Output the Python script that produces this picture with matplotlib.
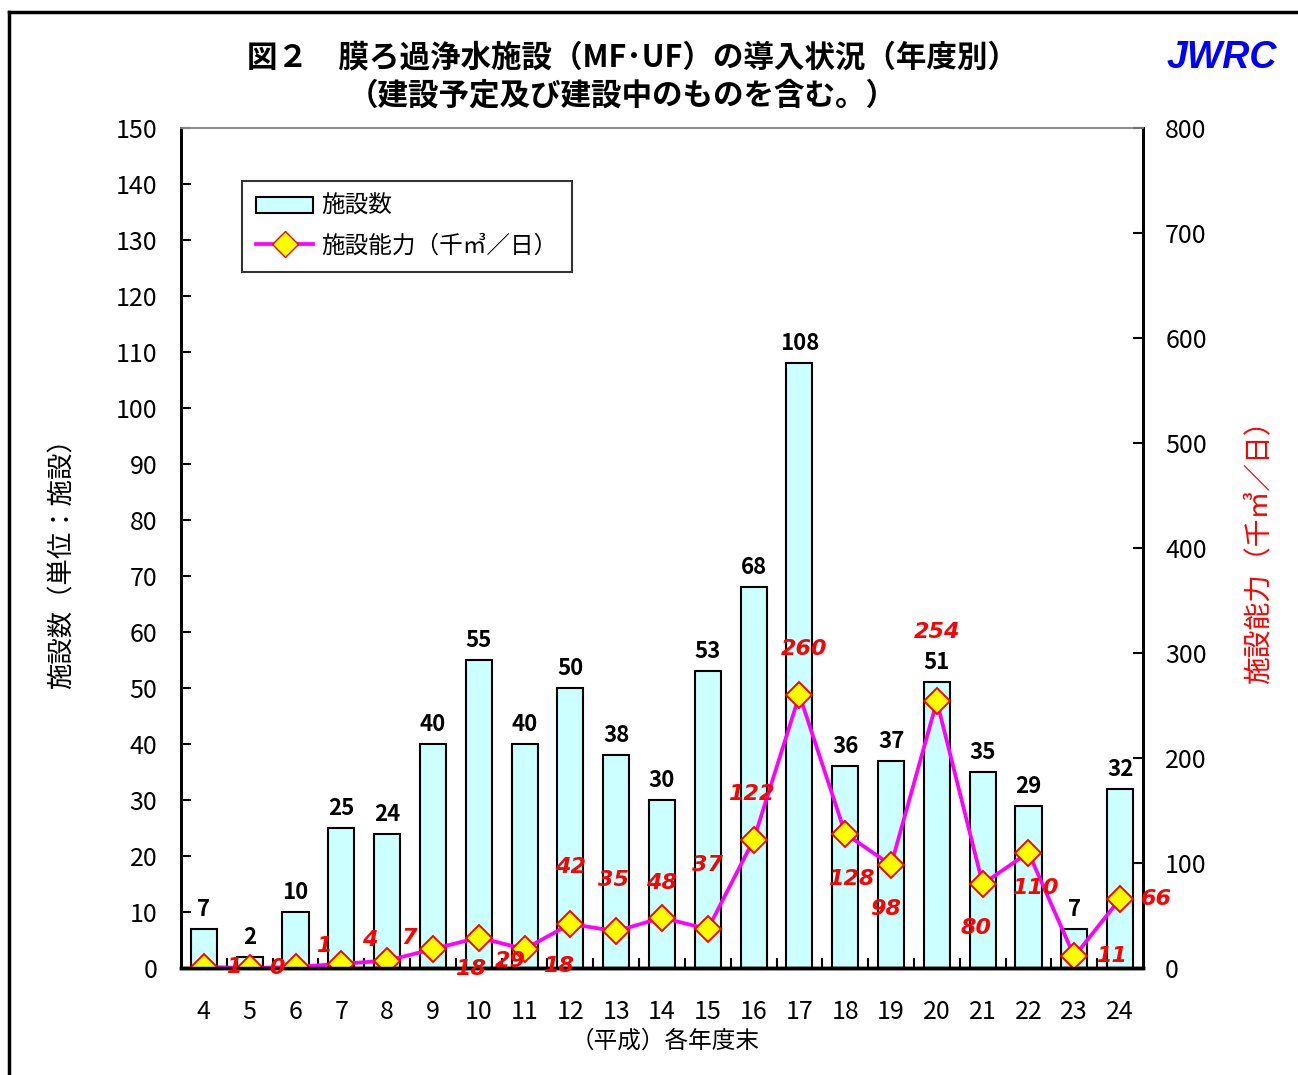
import numpy as np
import matplotlib
matplotlib.use("Agg")
import matplotlib.pyplot as plt
from matplotlib.lines import Line2D
from matplotlib.patches import Patch

plt.rcParams['font.family'] = ['Noto Sans CJK JP', 'DejaVu Sans']

years = ['4', '5', '6', '7', '8', '9', '10', '11', '12', '13', '14',
         '15', '16', '17', '18', '19', '20', '21', '22', '23', '24']
facilities = [7, 2, 10, 25, 24, 40, 55, 40, 50, 38, 30,
              53, 68, 108, 36, 37, 51, 35, 29, 7, 32]
capacity = [1, 0, 1, 4, 7, 18, 29, 18, 42, 35, 48,
            37, 122, 260, 128, 98, 254, 80, 110, 11, 66]

# label offsets for the red capacity numbers (pixels)
cap_offsets = [(30, 0), (27, 0), (28, 21), (28, 24), (22, 23), (38, -20), (32, -23),
               (34, -17), (0, 57), (-3, 51), (0, 35), (0, 64), (-2, 46), (5, 46),
               (6, -45), (-5, -44), (0, 69), (-7, -44), (7, -35), (37, 0), (36, 0)]

fig = plt.figure(figsize=(12.98, 10.75), dpi=100)
ax = fig.add_axes([181/1298, 1-968/1075, (1143-181)/1298, (968-128)/1075])
ax2 = ax.twinx()

x = np.arange(len(years))
ax.bar(x, facilities, width=0.57, color='#CCFFFF', edgecolor='black', linewidth=1.5)
for xi, v in zip(x, facilities):
    ax.annotate(str(v), (xi, v), xytext=(0, 8), textcoords='offset pixels',
                ha='center', va='bottom', fontsize=16, fontweight='bold')

ax.set_xlim(-0.5, len(years) - 0.5)
ax.set_ylim(0, 150)
ax.set_yticks(np.arange(0, 151, 10))
ax.set_xticks(x)
ax.set_xticklabels(years)
ax.set_xticks(np.arange(0.5, len(years) - 1, 1), minor=True)
ax.tick_params(axis='x', which='major', length=0, labelsize=18, pad=22)
ax.tick_params(axis='x', which='minor', direction='in', length=7, width=1.5)
ax.tick_params(axis='y', direction='in', length=7, width=1.5, labelsize=18, pad=17)

ax2.plot(x, capacity, color='#FF00FF', linewidth=2.7, marker='D', markersize=13,
         markerfacecolor='#FFFF00', markeredgecolor='#FF0000', markeredgewidth=1.4)
for xi, v, off in zip(x, capacity, cap_offsets):
    ax2.annotate(str(v), (xi, v), xytext=off, textcoords='offset pixels',
                 ha='center', va='center', fontsize=16, color='#FF0000',
                 fontweight='bold', fontstyle='italic', family='DejaVu Sans')
ax2.set_ylim(0, 800)
ax2.set_yticks(np.arange(0, 801, 100))
ax2.tick_params(axis='y', direction='in', length=7, width=1.5, labelsize=18, pad=16)

for a in (ax, ax2):
    a.spines['bottom'].set_linewidth(2.5)
    a.spines['left'].set_linewidth(2)
    a.spines['right'].set_linewidth(2)
    a.spines['top'].set_linewidth(1.2)
    a.spines['top'].set_color('#888888')

handles = [Patch(facecolor='#CCFFFF', edgecolor='black', linewidth=1.5),
           Line2D([], [], color='#FF00FF', linewidth=2.7, marker='D', markersize=13,
                  markerfacecolor='#FFFF00', markeredgecolor='#FF0000')]
leg = ax.legend(handles, ['施設数', '施設能力（千㎥／日）'], loc='upper left',
                bbox_to_anchor=((242-181)/962, (968-181)/840), borderaxespad=0,
                fontsize=17, frameon=True, fancybox=False, edgecolor='black',
                borderpad=0.6, handlelength=2.4, handletextpad=0.35, labelspacing=0.7)
leg.get_frame().set_linewidth(1.5)
leg.set_zorder(10)

fig.text(632/1298, 1-57/1075, '図２　膜ろ過浄水施設（MF･UF）の導入状況（年度別）',
         ha='center', va='center', fontsize=22, fontweight='bold')
fig.text(622/1298, 1-95/1075, '（建設予定及び建設中のものを含む。）',
         ha='center', va='center', fontsize=22, fontweight='bold')
fig.text(1222/1298, 1-58/1075, 'JWRC', ha='center', va='center', fontsize=27,
         fontweight='bold', fontstyle='italic', color='#0000FF', family='Liberation Sans')
fig.text(62/1298, 1-557/1075, '施設数（単位：施設）', rotation=90, ha='center',
         va='center', fontsize=19)
fig.text(1258/1298, 1-545/1075, '施設能力（千㎥／日）', rotation=90, ha='center',
         va='center', fontsize=20, color='#FF0000')
fig.text(665/1298, 1-1041/1075, '（平成）各年度末', ha='center', va='center', fontsize=17)

# outer frame (runs off the right and bottom edges)
fig.add_artist(Line2D([9/1298, 9/1298], [0, 1-12/1075], color='black', linewidth=2.5,
                      transform=fig.transFigure))
fig.add_artist(Line2D([9/1298, 1], [1-12/1075, 1-12/1075], color='black', linewidth=2.5,
                      transform=fig.transFigure))

fig.savefig('out.png', dpi=100)
